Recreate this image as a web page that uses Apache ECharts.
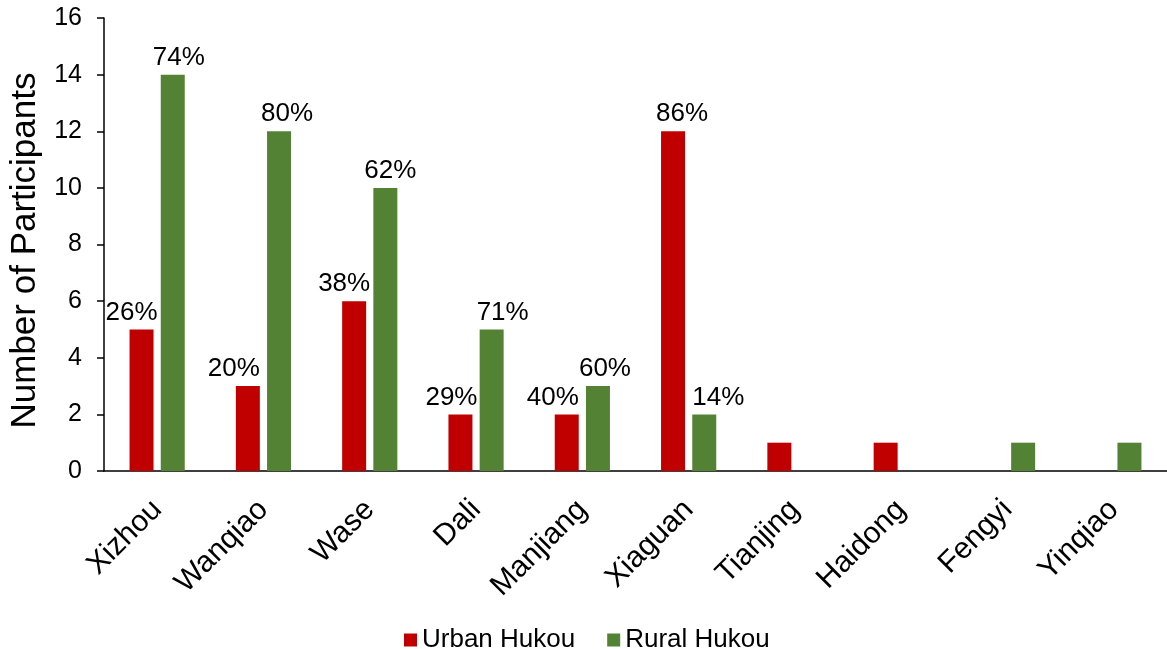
<!DOCTYPE html>
<html>
<head>
<meta charset="utf-8">
<script src="https://cdn.jsdelivr.net/npm/echarts@6/dist/echarts.min.js"></script>
<style>
  html, body { margin: 0; padding: 0; background: #fff; }
  #chart { width: 1167px; height: 649px; }
</style>
</head>
<body>
<div id="chart"></div>
<script>
// 数据
const towns = ['Xizhou', 'Wanqiao', 'Wase', 'Dali', 'Manjiang', 'Xiaguan', 'Tianjing', 'Haidong', 'Fengyi', 'Yinqiao']
const urbanCounts = [5, 3, 6, 2, 2, 12, 1, 1, 0, 0]
const ruralCounts = [14, 12, 10, 5, 3, 2, 0, 0, 1, 1]
const urbanPct = ['26%', '20%', '38%', '29%', '40%', '86%', null, null, null, null]
const ruralPct = ['74%', '80%', '62%', '71%', '60%', '14%', null, null, null, null]
const yTicks = { min: 0, max: 16, step: 2 }

// 标签水平微调（原图中标签被手动挪动过）
const urbanShift = [-10, -14, -10, -9, -14, 9, 0, 0, 0, 0]
const ruralShift = [6, 8, 5, 11, 7, 14, 0, 0, 0, 0]

const FONT = '"Liberation Sans", Arial, sans-serif'

const buildData = (counts, pct, shift) => counts.map((v, i) => ({
  value: v,
  label: {
    show: pct[i] != null,
    formatter: pct[i] || '',
    offset: [shift[i], 0]
  }
}))

const chart = echarts.init(document.getElementById('chart'))

const labelStyle = {
  position: 'top',
  distance: 4,
  color: '#000',
  fontSize: 26,
  fontFamily: FONT
}

chart.setOption({
  animation: false,
  grid: { left: 104, right: 0, top: 18, bottom: 178 },
  legend: {
    top: 622,
    left: 399,
    itemWidth: 13,
    itemHeight: 13,
    itemGap: 32,
    icon: 'rect',
    textStyle: { fontSize: 26, color: '#000', fontFamily: FONT },
    data: ['Urban Hukou', 'Rural Hukou']
  },
  xAxis: {
    type: 'category',
    data: towns,
    axisLine: { lineStyle: { color: '#000', width: 1.5 } },
    axisTick: { show: false },
    axisLabel: {
      rotate: 45,
      interval: 0,
      margin: 34,
      color: '#000',
      fontSize: 30,
      fontFamily: FONT
    }
  },
  yAxis: {
    type: 'value',
    min: yTicks.min,
    max: yTicks.max,
    interval: yTicks.step,
    name: 'Number of Participants',
    nameLocation: 'middle',
    nameGap: 46,
    nameTextStyle: { fontSize: 35, color: '#000', fontFamily: FONT, padding: [0, 12, 0, 0] },
    axisLine: { show: true, lineStyle: { color: '#000', width: 1.5 } },
    axisTick: { show: true, length: 7, lineStyle: { color: '#000', width: 1.5 } },
    splitLine: { show: false },
    axisLabel: { margin: 22, color: '#000', fontSize: 25, fontFamily: FONT }
  },
  series: [
    {
      name: 'Urban Hukou',
      type: 'bar',
      barWidth: 24,
      barGap: '30%',
      itemStyle: { color: '#C00000' },
      label: labelStyle,
      data: buildData(urbanCounts, urbanPct, urbanShift)
    },
    {
      name: 'Rural Hukou',
      type: 'bar',
      barWidth: 24,
      itemStyle: { color: '#548235' },
      label: labelStyle,
      data: buildData(ruralCounts, ruralPct, ruralShift)
    }
  ]
})
</script>
</body>
</html>
